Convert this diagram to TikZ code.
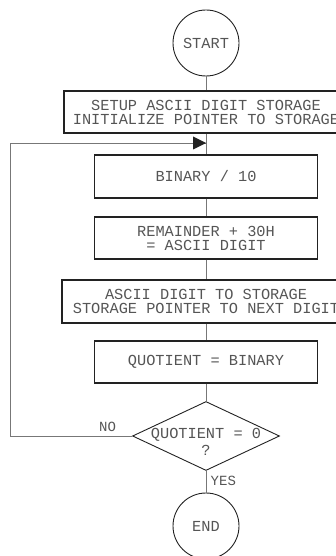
\documentclass[tikz,border=0pt]{standalone}
\usepackage{fontspec}
\setmainfont{Liberation Mono}
\usetikzlibrary{shapes.geometric,arrows.meta}
\definecolor{inkline}{HTML}{222222}
\definecolor{wire}{HTML}{777777}
\definecolor{inktext}{HTML}{555555}
\begin{document}
\begin{tikzpicture}[x=1pt,y=-1pt,
  every node/.style={font=\fontsize{15.3}{14}\selectfont, text=inktext},
  terminal/.style={circle, draw=inkline, line width=0.9pt, minimum size=66pt, inner sep=0pt},
  process/.style={rectangle, draw=inkline, line width=1.4pt, align=center, inner sep=0pt},
  decision/.style={diamond, draw=inkline, line width=0.9pt, minimum width=147pt, minimum height=69pt, inner sep=0pt},
  link/.style={draw=wire, line width=0.8pt},
  tag/.style={font=\fontsize{14}{14}\selectfont}]
\useasboundingbox (0,0) rectangle (336,556);
\clip (0,0) rectangle (336,556);

% terminals and process steps
\node[terminal] (start) at (206,43) {START};
\node[process, minimum width=284pt, minimum height=42pt] (setup) at (206,112)
  {SETUP ASCII DIGIT STORAGE\\INITIALIZE POINTER TO STORAGE};
\node[process, minimum width=223pt, minimum height=43pt] (div) at (206,176.5) {BINARY / 10};
\node[process, minimum width=223pt, minimum height=42pt] (rem) at (206,238)
  {REMAINDER + 30H\\= ASCII DIGIT};
\node[process, minimum width=288pt, minimum height=43pt] (store) at (206,301.5)
  {ASCII DIGIT TO STORAGE\\STORAGE POINTER TO NEXT DIGIT};
\node[process, minimum width=223pt, minimum height=42pt] (quot) at (206,362) {QUOTIENT = BINARY};
\node[decision] (dec) at (206,436)
  {\makebox[0pt]{\raisebox{-2.5pt}[0pt][0pt]{\begin{tabular}[t]{@{}c@{}}QUOTIENT = 0\\[3pt]?\end{tabular}}}};
\node[terminal] (end) at (206,526) {END};

% loop entry point above the division step
\coordinate (join) at (206,143);
\coordinate (back) at (10,143);

% straight connectors down the main column
\draw[link] (start) -- (setup);
\draw[link] (setup) -- (div);
\draw[link] (div) -- (rem);
\draw[link] (rem) -- (store);
\draw[link] (store) -- (quot);
\draw[link] (quot) -- (dec);
\draw[link] (dec) -- node[tag, right=1pt, pos=0.45] {YES} (end);

% NO branch loops back to the division step
\draw[link] (dec.west) -- node[tag, above=1pt, pos=0.2] {NO} (dec.west -| back) -- (back)
  -- (join);
\fill[inkline] (join) -- ++(-13,-6.5) -- ++(0,13) -- cycle;
\end{tikzpicture}
\end{document}
